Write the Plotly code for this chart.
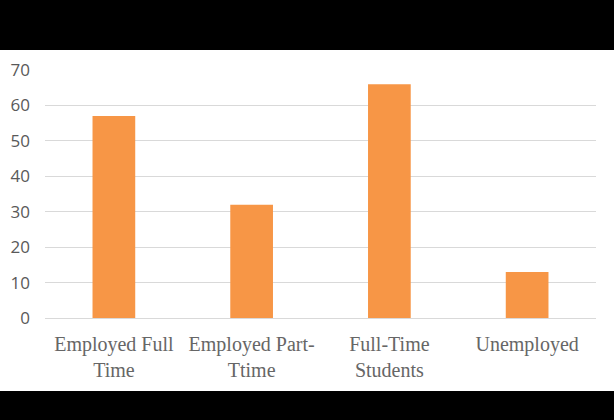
import plotly.graph_objects as go

categories = ["Employed Full Time", "Employed Part-Ttime", "Full-Time Students", "Unemployed"]
tick_labels = ["Employed Full<br>Time", "Employed Part-<br>Ttime", "Full-Time<br>Students", "Unemployed"]
values = [57, 32, 66, 13]
y_ticks = [0, 10, 20, 30, 40, 50, 60, 70]

W, H = 614, 420
ml, mr, mt, mb = 45, 18, 70, 102
pw, ph = W - ml - mr, H - mt - mb

def px_to_paper_x(px):
    return (px - ml) / pw

def px_to_paper_y(py):
    return (H - mb - py) / ph

fig = go.Figure(go.Bar(
    x=categories, y=values,
    marker=dict(color="#F79646", line=dict(width=0)),
    width=0.31,
))

fig.update_layout(
    width=W, height=H,
    margin=dict(l=ml, r=mr, t=mt, b=mb, pad=0),
    paper_bgcolor="black",
    plot_bgcolor="white",
    showlegend=False,
    shapes=[dict(
        type="rect", xref="paper", yref="paper", layer="below",
        x0=px_to_paper_x(-5), x1=px_to_paper_x(W + 5),
        y0=px_to_paper_y(391), y1=px_to_paper_y(50),
        fillcolor="white", line=dict(width=0),
    )],
)
fig.update_xaxes(
    tickmode="array", tickvals=categories, ticktext=tick_labels,
    tickfont=dict(family="Liberation Serif", size=20, color="#666666"),
    showgrid=False, showline=False, ticks="", ticklabelstandoff=12,
)
fig.update_yaxes(
    range=[0, 70], tickvals=y_ticks,
    tickfont=dict(family="Open Sans", size=17, color="#595959"),
    showgrid=True, gridcolor="#D9D9D9", gridwidth=1,
    zeroline=True, zerolinecolor="#D9D9D9", zerolinewidth=1,
    showline=False, ticks="", ticklabelstandoff=14,
)

fig.write_html(
    "out.html",
    config={"displayModeBar": False, "staticPlot": True},
    post_script="document.body.style.margin='0';document.body.style.overflow='hidden';",
)
